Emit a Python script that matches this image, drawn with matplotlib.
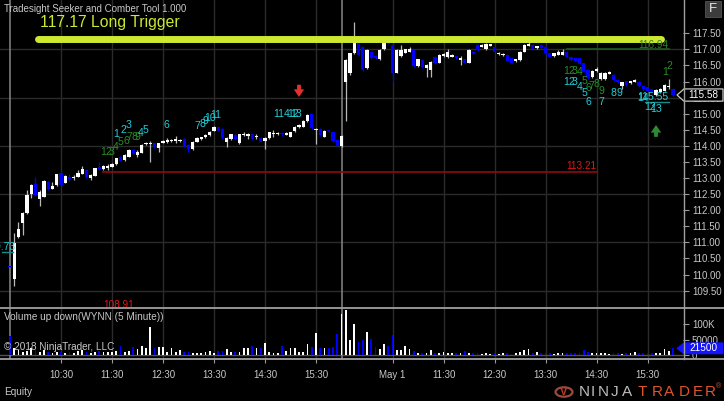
import matplotlib
matplotlib.use('Agg')
import matplotlib.pyplot as plt
import matplotlib.transforms as mtransforms
from matplotlib.patches import Polygon, Rectangle, Circle
from matplotlib.lines import Line2D
import numpy as np

# ---------------- data (bar index 0..156, 5-minute bars, two sessions) ----------------
opens = [
    110.27, 109.85, 111.18, 111.59, 111.90, 112.50, 112.81, 112.36, 112.42, 112.88,
    112.67, 112.78, 113.15, 112.86, 113.04, 113.00, 113.04, 113.13, 113.25, 113.00,
    113.07, 113.33, 113.27, 113.30, 113.35, 113.43, 113.66, 113.56, 113.66, 113.87,
    113.72, 113.79, 114.05, 114.05, 114.08, 113.93, 114.10, 114.13, 114.14, 114.15,
    114.14, 114.21, 114.03, 113.89, 114.13, 114.21, 114.27, 114.34, 114.47, 114.58,
    114.52, 114.13, 114.21, 114.34, 114.08, 114.35, 114.32, 114.38, 114.26, 114.25,
    114.14, 114.24, 114.36, 114.36, 114.40, 114.35, 114.29, 114.46, 114.59, 114.60,
    114.77, 114.98, 114.50, 114.53, 114.29, 114.48, 114.42, 114.18, 114.00,
    115.99, 116.26, 116.88, 117.19, 117.08, 116.41, 116.93, 116.79, 116.69, 117.00, 117.21,
    117.14, 116.28, 116.79, 116.90, 116.93, 116.98, 116.48, 116.67, 116.41, 116.36,
    116.77, 116.59, 116.79, 116.75, 116.77, 116.78, 116.67, 116.69, 116.59, 116.93,
    117.14, 117.08, 117.00, 117.11, 117.06, 116.85, 116.82, 116.84, 116.72, 116.63,
    116.67, 116.93, 117.12, 117.14, 117.04, 117.14, 117.08, 116.88, 116.79, 116.84,
    116.84, 116.93, 116.75, 116.72, 116.72, 116.57, 116.36, 116.13, 116.33, 116.07,
    116.07, 116.24, 116.20, 116.06, 115.87, 116.01, 115.95, 116.00, 116.00, 115.87,
    115.82, 115.76, 115.58, 115.66, 115.72, 115.83, 115.76,
]
closes = [
    110.24, 110.99, 111.43, 111.90, 112.47, 112.78, 112.47, 112.55, 112.92, 112.65,
    112.76, 113.12, 112.79, 113.07, 112.98, 113.04, 113.17, 113.28, 113.02, 113.08,
    113.30, 113.27, 113.38, 113.36, 113.43, 113.61, 113.54, 113.72, 113.87, 113.75,
    113.82, 114.03, 114.10, 114.10, 113.96, 114.08, 114.14, 114.18, 114.18, 114.20,
    114.18, 113.97, 113.89, 114.13, 114.24, 114.27, 114.34, 114.44, 114.58, 114.47,
    114.24, 114.25, 114.36, 114.21, 114.36, 114.38, 114.38, 114.21, 114.30, 114.13,
    114.25, 114.42, 114.39, 114.40, 114.36, 114.40, 114.42, 114.60, 114.65, 114.77,
    114.96, 114.55, 114.53, 114.34, 114.47, 114.45, 114.15, 114.00, 114.32,
    116.67, 116.88, 117.24, 116.83, 116.36, 116.98, 116.72, 116.72, 116.98, 117.21, 117.18,
    116.28, 116.98, 116.98, 117.00, 117.00, 116.48, 116.69, 116.44, 116.51, 116.62,
    116.57, 116.83, 116.86, 116.93, 116.83, 116.72, 116.72, 116.59, 116.98, 116.88,
    116.98, 117.14, 117.18, 117.16, 116.93, 116.90, 116.86, 116.65, 116.59, 116.69,
    116.93, 117.14, 117.18, 117.00, 117.10, 117.03, 116.88, 116.77, 116.88, 116.93,
    116.93, 116.75, 116.67, 116.65, 116.55, 116.31, 116.10, 116.34, 116.39, 116.28,
    116.28, 116.31, 116.05, 115.98, 115.98, 115.89, 116.01, 116.05, 115.86, 115.76,
    115.72, 115.69, 115.74, 115.77, 115.89, 115.86, 115.58,
]
highs = [
    110.28, 111.29, 111.64, 111.95, 112.63, 112.80, 113.02, 112.62, 112.95, 112.90,
    112.88, 113.14, 113.23, 113.09, 113.11, 113.10, 113.25, 113.36, 113.27, 113.13,
    113.32, 113.51, 113.40, 113.45, 113.48, 113.63, 113.68, 113.74, 113.89, 113.89,
    113.88, 114.05, 114.13, 114.14, 114.10, 114.10, 114.17, 114.25, 114.21, 114.30,
    114.21, 114.23, 114.05, 114.15, 114.26, 114.29, 114.36, 114.46, 114.62, 114.60,
    114.54, 114.27, 114.38, 114.36, 114.38, 114.42, 114.40, 114.40, 114.36, 114.27,
    114.27, 114.44, 114.50, 114.42, 114.42, 114.42, 114.44, 114.62, 114.67, 114.79,
    114.98, 115.00, 114.56, 114.55, 114.49, 114.50, 114.44, 114.20, 114.34,
    116.70, 116.90, 117.86, 117.22, 117.12, 117.00, 116.95, 116.81, 117.00, 117.28, 117.23,
    117.16, 117.00, 117.14, 117.02, 117.07, 117.00, 116.71, 116.69, 116.53, 116.64,
    116.79, 116.85, 116.88, 117.01, 116.85, 116.80, 116.79, 116.71, 117.00, 116.95,
    117.16, 117.16, 117.20, 117.18, 117.08, 116.92, 116.88, 116.86, 116.74, 116.71,
    116.95, 117.16, 117.22, 117.16, 117.12, 117.16, 117.10, 116.90, 116.90, 116.98,
    117.00, 116.95, 116.77, 116.74, 116.74, 116.59, 116.38, 116.36, 116.45, 116.30,
    116.30, 116.33, 116.22, 116.08, 116.00, 116.03, 116.03, 116.07, 116.02, 115.89,
    115.84, 115.78, 115.76, 115.79, 115.91, 116.08, 115.80,
]
lows = [
    110.22, 109.65, 111.15, 111.23, 111.88, 112.39, 112.45, 112.13, 112.40, 112.63,
    112.65, 112.76, 112.77, 112.84, 112.90, 112.93, 113.02, 113.11, 113.00, 112.95,
    113.05, 113.25, 113.25, 113.26, 113.33, 113.41, 113.52, 113.54, 113.64, 113.73,
    113.65, 113.77, 114.03, 113.49, 113.94, 113.80, 114.08, 114.08, 114.12, 114.08,
    114.12, 113.95, 113.80, 113.87, 114.11, 114.19, 114.25, 114.32, 114.45, 114.45,
    114.22, 113.95, 114.19, 114.19, 114.06, 114.30, 114.20, 114.19, 114.21, 114.11,
    113.90, 114.22, 114.28, 114.34, 114.30, 114.33, 114.27, 114.44, 114.57, 114.58,
    114.75, 114.53, 114.05, 114.32, 114.27, 114.43, 114.13, 113.98, 113.98,
    114.77, 116.20, 116.85, 116.80, 116.34, 116.39, 116.70, 116.70, 116.67, 116.98, 117.16,
    116.00, 116.26, 116.77, 116.88, 116.91, 116.46, 116.46, 116.42, 116.15, 116.15,
    116.55, 116.57, 116.77, 116.73, 116.75, 116.70, 116.50, 116.57, 116.57, 116.86,
    116.96, 117.06, 116.98, 117.09, 116.91, 116.83, 116.80, 116.63, 116.57, 116.61,
    116.65, 116.91, 117.10, 116.98, 117.02, 117.01, 116.86, 116.75, 116.77, 116.82,
    116.82, 116.73, 116.65, 116.63, 116.53, 116.29, 116.08, 116.11, 116.31, 116.05,
    116.05, 116.22, 116.03, 115.96, 115.78, 115.87, 115.93, 115.98, 115.84, 115.74,
    115.70, 115.67, 115.56, 115.64, 115.70, 115.76, 115.56,
]
volumes_k = [
    62, 21, 16, 11, 14, 21, 16, 11, 16, 11,
    8, 11, 11, 8, 11, 8, 13, 16, 11, 8,
    11, 13, 11, 11, 9, 13, 30, 11, 14, 25,
    19, 30, 21, 90, 21, 25, 25, 11, 24, 11,
    16, 9, 11, 8, 8, 8, 11, 13, 8, 14,
    14, 18, 9, 11, 11, 21, 21, 29, 21, 21,
    38, 11, 8, 8, 30, 14, 21, 24, 9, 11,
    35, 27, 72, 24, 21, 24, 27, 68, 131,
    146, 48, 100, 41, 48, 75, 51, 25, 20, 35, 30,
    65, 16, 16, 30, 20, 14, 5, 5, 6, 16,
    8, 5, 9, 8, 5, 5, 5, 13, 6, 5,
    5, 4, 5, 4, 5, 4, 5, 5, 4, 5,
    9, 16, 20, 8, 9, 5, 5, 5, 4, 5,
    5, 5, 5, 5, 5, 17, 9, 5, 5, 5,
    6, 4, 5, 5, 4, 5, 6, 9, 5, 5,
    5, 5, 6, 8, 20, 13, 21.5,
]

time_tick_bars = [12, 24, 36, 48, 60, 72, 90, 102, 114, 126, 138, 150]
time_tick_labels = ['10:30', '11:30', '12:30', '13:30', '14:30', '15:30',
                    'May 1', '11:30', '12:30', '13:30', '14:30', '15:30']
session_bars = [0, 78]
price_ticks = [109.5, 110.0, 110.5, 111.0, 111.5, 112.0, 112.5, 113.0, 113.5,
               114.0, 114.5, 115.0, 115.5, 116.0, 116.5, 117.0, 117.5]
price_grid = [109.5, 111.0, 112.5, 114.0, 115.5, 117.0]
vol_ticks_k = [0, 50, 100]
vol_tick_labels = ['0', '50000', '100K']

# indicator annotations: (text, bar, price)
green_counts = [('1', 22.0, 113.80), ('2', 23.2, 113.80), ('3', 24.0, 113.81),
                ('4', 24.9, 113.97), ('5', 26.1, 114.12), ('6', 27.3, 114.16),
                ('7', 28.2, 114.28), ('8', 29.2, 114.28), ('9', 30.1, 114.28),
                ('1', 130.8, 116.33), ('2', 132.0, 116.33), ('3', 132.9, 116.33),
                ('4', 134.1, 116.30), ('5', 135.1, 116.02), ('6', 136.0, 115.80),
                ('7', 136.9, 115.86), ('8', 138.1, 115.92), ('9', 139.1, 115.71),
                ('1', 154.1, 116.30), ('2', 155.1, 116.48)]
cyan_counts = [('1', 24.9, 114.37), ('2', 26.8, 114.49), ('3', 28.0, 114.65),
               ('4', 30.8, 114.40), ('5', 32.0, 114.49), ('6', 36.9, 114.65),
               ('7', 44.0, 114.62), ('8', 45.2, 114.68), ('9', 46.1, 114.77),
               ('10', 47.1, 114.87), ('11', 48.5, 114.96),
               ('114', 63.8, 114.99), ('12', 66.6, 114.99), ('13', 67.3, 114.99),
               ('1', 130.8, 115.99), ('2', 132.0, 115.99), ('3', 132.9, 115.99),
               ('4', 134.1, 115.83), ('5', 135.1, 115.64), ('6', 136.0, 115.37),
               ('7', 139.1, 115.37), ('8', 142.1, 115.64), ('9', 143.3, 115.64),
               ('14', 148.9, 115.49), ('12', 150.6, 115.21), ('13', 152.0, 115.16)]

trigger_price = 117.17
trigger_level = 117.32
trigger_bars = (6.5, 153.1)
target_price = 113.21
target_level = 113.19
target_bars = (22.0, 138.0)
stop_price = 116.94
stop_level = 117.0
stop_bars = (131.0, 155.0)
teal_price = 115.55
teal_level = 115.37
teal_bars = (149.3, 155.0)
left_price = 110.73
left_level = 110.71
low_price = 108.91
sell_arrow = (68, 115.90, 115.52)
buy_arrow = (152, 114.28, 114.65)

# ---------------- styling ----------------
W, H = 724, 401
BG = '#000000'
TXT = '#c8c8c8'
GRID = '#2b2b2b'
FRAME = '#a0a0a0'
UPC = '#ffffff'
DNC = '#0000ff'
YG = '#cde830'
CYAN = '#1fcfd8'
GREEN = '#2a8c2a'

plt.rcParams['font.family'] = ['Liberation Sans', 'DejaVu Sans']

fig = plt.figure(figsize=(W / 100, H / 100), dpi=100, facecolor=BG)
ax = fig.add_axes([0, 1 - 307 / H, 683 / W, 307 / H], facecolor=BG)
axv = fig.add_axes([0, 1 - 359 / H, 683 / W, 51 / H], facecolor=BG)

XMIN, XMAX = -2.35, 158.35
for a in (ax, axv):
    a.set_xlim(XMIN, XMAX)
    for s in a.spines.values():
        s.set_visible(False)
ax.set_ylim(108.99, 118.535)
axv.set_ylim(-13, 152)

o = np.array(opens); c = np.array(closes)
hi = np.array(highs); lo = np.array(lows)
idx = np.arange(len(c))
up = c >= o
body_col = np.where(up, UPC, DNC)
wick_col = np.where(up, '#b8b8b8', DNC)

# grid
for g in price_grid:
    ax.axhline(g, color=GRID, lw=1.0, zorder=1)
for t in time_tick_bars:
    ax.axvline(t, color=GRID, lw=1.0, zorder=1)
    axv.axvline(t, color=GRID, lw=1.0, zorder=1)
for s in session_bars:
    ax.axvline(s, color='#7c7c7c', lw=1.2, zorder=2)
    axv.axvline(s, color='#7c7c7c', lw=1.2, zorder=2)
axv.axhline(0, color='#505050', lw=1.0, zorder=1)

# candles
ax.vlines(idx, lo, hi, colors=wick_col, lw=0.9, zorder=3)
ax.bar(idx, np.maximum(np.abs(c - o), 0.025), bottom=np.minimum(o, c),
       width=0.72, color=body_col, lw=0, zorder=4)

# volume
axv.bar(idx, volumes_k, width=0.38, color=body_col, lw=0, zorder=3)

# level lines
ax.plot(trigger_bars, [trigger_level] * 2, color=YG, lw=5.0,
        solid_capstyle='round', zorder=6)
ax.text(7.1, 117.82, f'{trigger_price:.2f} Long Trigger', color=YG,
        fontsize=11.3, ha='left', va='center', zorder=7)
ax.plot(target_bars, [target_level] * 2, color='#8e0b0b', lw=1.2, zorder=5)
ax.text(target_bars[1], target_level + 0.19, f'{target_price:.2f}', color='#e01818',
        fontsize=7.2, ha='right', va='center', zorder=7)
ax.plot(stop_bars, [stop_level] * 2, color='#1f5a1f', lw=1.2, zorder=5)
ax.text(stop_bars[1], stop_level + 0.13, f'{stop_price:.2f}', color='#2a7f2a',
        fontsize=7.2, ha='right', va='center', zorder=7)
ax.plot(teal_bars, [teal_level] * 2, color='#178a8a', lw=1.0, zorder=5)
ax.text(teal_bars[1], teal_level + 0.15, f'{teal_price:.2f}', color=CYAN,
        fontsize=7.5, ha='right', va='center', zorder=7)
ax.plot((XMIN + 0.5, 0.8), [left_level] * 2, color='#178a8a', lw=1.0, zorder=5)
ax.text(1.2, left_level + 0.16, f'{left_price:.2f}', color=CYAN, fontsize=7.5,
        ha='right', va='center', zorder=7, clip_on=True)
ax.text(25.5, 109.06, f'{low_price:.2f}', color='#e01818', fontsize=7.2,
        ha='center', va='center', zorder=7, clip_on=True)

for txt, b, p in green_counts:
    ax.text(b, p, txt, color=GREEN, fontsize=7.6, ha='center', va='center', zorder=8)
for txt, b, p in cyan_counts:
    ax.text(b, p, txt, color=CYAN, fontsize=7.6, ha='center', va='center', zorder=8)

# arrows
astyle = 'simple,head_width=0.75,head_length=0.55,tail_width=0.28'
ax.annotate('', xy=(sell_arrow[0], sell_arrow[2]), xytext=(sell_arrow[0], sell_arrow[1]),
            arrowprops=dict(arrowstyle=astyle, color='#e3302a', lw=0, mutation_scale=10,
                            shrinkA=0, shrinkB=0), zorder=9)
ax.annotate('', xy=(buy_arrow[0], buy_arrow[2]), xytext=(buy_arrow[0], buy_arrow[1]),
            arrowprops=dict(arrowstyle=astyle, color='#2e8a32', lw=0, mutation_scale=10,
                            shrinkA=0, shrinkB=0), zorder=9)

# axes ticks
ax.yaxis.tick_right()
ax.set_yticks(price_ticks)
ax.set_yticklabels([f'{v:.2f}' for v in price_ticks])
ax.tick_params(axis='y', colors='#9a9a9a', labelcolor=TXT, labelsize=7, length=4,
               width=0.8, pad=2.5)
ax.tick_params(axis='x', bottom=False, labelbottom=False)

axv.yaxis.tick_right()
axv.set_yticks(vol_ticks_k)
axv.set_yticklabels(vol_tick_labels)
axv.tick_params(axis='y', colors='#9a9a9a', labelcolor=TXT, labelsize=7, length=4,
                width=0.8, pad=2.5)
axv.set_xticks(time_tick_bars)
axv.set_xticklabels(time_tick_labels)
axv.tick_params(axis='x', colors='#9a9a9a', labelcolor=TXT, labelsize=7, length=3,
                width=0.8, pad=5)

# frame lines
def fxp(px):
    return px / W

def fyp(py):
    return 1 - py / H

for yy in (307.5, 359.0):
    fig.add_artist(Line2D([0, 1], [fyp(yy), fyp(yy)], color=FRAME, lw=1.3,
                          transform=fig.transFigure))
fig.add_artist(Line2D([fxp(683.5), fxp(683.5)], [fyp(0), fyp(359)], color=FRAME, lw=1.0,
                      transform=fig.transFigure))

# last price box
tr_p = mtransforms.blended_transform_factory(fig.transFigure, ax.transData)
last = closes[-1]
hh = 0.19
poly = Polygon([(fxp(677), last), (fxp(684), last + hh), (fxp(723), last + hh),
                (fxp(723), last - hh), (fxp(684), last - hh)], closed=True,
               facecolor='#000000', edgecolor='#c8c8c8', lw=0.9,
               transform=tr_p, clip_on=False, zorder=10)
ax.add_patch(poly)
ax.text(fxp(703), last, f'{last:.2f}', transform=tr_p, color='#ffffff', fontsize=7.2,
        ha='center', va='center', clip_on=False, zorder=11)

tr_v = mtransforms.blended_transform_factory(fig.transFigure, axv.transData)
lastv = volumes_k[-1]
hv = 17.5
polyv = Polygon([(fxp(677), lastv), (fxp(684), lastv + hv), (fxp(723), lastv + hv),
                 (fxp(723), lastv - hv), (fxp(684), lastv - hv)], closed=True,
                facecolor='#1414ff', edgecolor='#1414ff', lw=0.8,
                transform=tr_v, clip_on=False, zorder=10)
axv.add_patch(polyv)
axv.text(fxp(703), lastv, f'{int(lastv * 1000)}', transform=tr_v, color='#ffffff',
         fontsize=7.2, ha='center', va='center', clip_on=False, zorder=11)

# texts
fig.text(fxp(4), fyp(9), 'Tradesight Seeker and Comber Tool 1.000', color=TXT,
         fontsize=7.0, ha='left', va='center')
fig.text(fxp(4), fyp(317), 'Volume up down(WYNN (5 Minute))', color=TXT,
         fontsize=7.2, ha='left', va='center')
fig.text(fxp(4), fyp(347), '\u00a9 2018 NinjaTrader, LLC', color=TXT,
         fontsize=7.2, ha='left', va='center', zorder=12)
fig.text(fxp(4), fyp(392), 'Equity', color=TXT, fontsize=7.2, ha='left', va='center')

# F button
fig.add_artist(Rectangle((fxp(705), fyp(17)), 16 / W, 16 / H, transform=fig.transFigure,
                         facecolor='#3c3c3c', edgecolor='#555555', lw=0.6))
fig.text(fxp(713), fyp(9), 'F', color='#e8e8e8', fontsize=9.5, ha='center', va='center')

# logo
fig.add_artist(Circle((fxp(564), fyp(392)), 8.5 / W, transform=fig.transFigure,
                      facecolor='none', edgecolor='#9a4a3a', lw=1.6))
fig.text(fxp(564), fyp(392), 'V', color='#c03828', fontsize=8, ha='center', va='center',
         fontweight='bold')
logo_letters = ['N', 'I', 'N', 'J', 'A', 'T', 'R', 'A', 'D', 'E', 'R']
logo_x = [584, 593, 603, 615, 627.5, 642.5, 657, 669, 684, 698, 710]
for i, (ch, xx) in enumerate(zip(logo_letters, logo_x)):
    fig.text(fxp(xx), fyp(392.5), ch, color='#bdbdbd' if i < 5 else '#e0552b',
             fontsize=11, ha='center', va='center')
fig.text(fxp(719), fyp(387), '\u00ae', color='#e0552b', fontsize=5, ha='center', va='center')

fig.savefig('out.png', dpi=100, facecolor=BG)
